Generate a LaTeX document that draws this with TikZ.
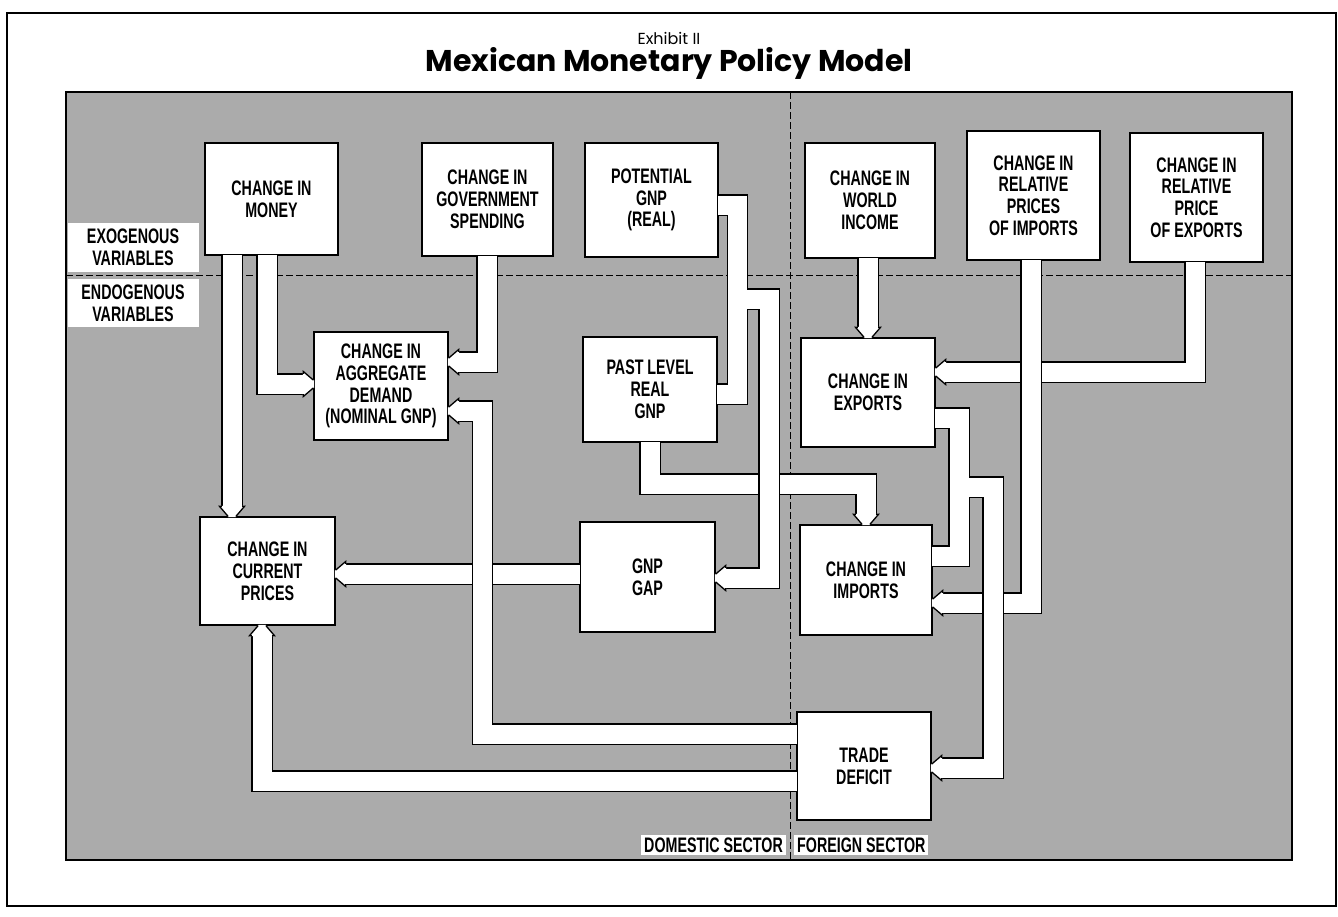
\documentclass[tikz,border=0pt]{standalone}
\usepackage{fontspec}
\usetikzlibrary{calc}
\setmainfont{Liberation Sans}
\newfontfamily\condfont{Liberation Sans}[FakeStretch=0.68]
\newfontfamily\titlefont{Poppins}
\newcommand\boxtext{\condfont\bfseries\fontsize{21}{21.8}\selectfont}
\newcommand\fatband[1]{\draw[bandback] #1; \draw[bandfront] #1;}
\tikzset{
  box/.style={draw, line width=1.4pt, fill=white, inner sep=0pt, align=center, font=\boxtext},
  lbl/.style={fill=white, inner sep=0pt, align=center, font=\boxtext},
  bandback/.style={line width=21.6pt, draw=black, line join=miter, line cap=butt},
  bandfront/.style={line width=19pt, draw=white, line join=miter, line cap=butt},
  divider/.style={line width=1pt, dash pattern=on 7pt off 3pt},
  ahead/.pic={
    \fill[white] (10.5,12.5) -- (-0.9,3.6) -- (-0.9,-3.6) -- (10.5,-12.5) -- cycle;
    \draw[line width=1.3pt, line join=miter] (10,10.2) -- (10,12.5) -- (-0.2,3.8);
    \draw[line width=1.3pt, line join=miter] (10,-10.2) -- (10,-12.5) -- (-0.2,-3.8);
  }
}
\begin{document}
\begin{tikzpicture}[x=1pt,y=-1pt]
\useasboundingbox (0,0) rectangle (1338,916);
% outer frame and title
\draw[line width=1.8pt] (7,13) rectangle (1336,906);
\node[font=\titlefont\fontsize{16}{18}\selectfont] (exhibit) at (669,38) {Exhibit II};
\node[font=\titlefont\bfseries\fontsize{30}{34}\selectfont] (title) at (669,63) {Mexican Monetary Policy Model};
% shaded panel
\fill[black!33] (66,92) rectangle (1292,860);
\draw[line width=1.5pt] (66,92) rectangle (1292,860);
% dividers
\draw[divider] (66,275) -- (1292,275);
\draw[divider] (790,92) -- (790,860);
% side labels
\node[lbl, minimum width=131pt, minimum height=49pt] (exo) at (133,247) {EXOGENOUS\\VARIABLES};
\node[lbl, minimum width=131pt, minimum height=48pt] (endo) at (133,303) {ENDOGENOUS\\VARIABLES};
\node[lbl, inner sep=3pt, anchor=east] (dom) at (786,845) {DOMESTIC SECTOR};
\node[lbl, inner sep=3pt, anchor=west] (for) at (794,845) {FOREIGN SECTOR};
% boxes
\node[box, minimum width=133pt, minimum height=112pt] (money) at (271.5,199) {CHANGE IN\\MONEY};
\node[box, minimum width=131pt, minimum height=113pt] (gov) at (487.5,199.5) {CHANGE IN\\GOVERNMENT\\SPENDING};
\node[box, minimum width=133pt, minimum height=114pt] (potential) at (651.5,200) {POTENTIAL\\GNP\\(REAL)};
\node[box, minimum width=130pt, minimum height=115pt] (world) at (870,200.5) {CHANGE IN\\WORLD\\INCOME};
\node[box, minimum width=133pt, minimum height=129pt] (relimp) at (1033.5,195.5) {CHANGE IN\\RELATIVE\\PRICES\\OF IMPORTS};
\node[box, minimum width=133pt, minimum height=129pt] (relexp) at (1196.5,197.5) {CHANGE IN\\RELATIVE\\PRICE\\OF EXPORTS};
\node[box, minimum width=134pt, minimum height=108pt] (agg) at (381,386) {CHANGE IN\\AGGREGATE\\DEMAND\\(NOMINAL GNP)};
\node[box, minimum width=134pt, minimum height=105pt] (past) at (650,389.5) {PAST LEVEL\\REAL\\GNP};
\node[box, minimum width=134pt, minimum height=109pt] (exports) at (868,392.5) {CHANGE IN\\EXPORTS};
\node[box, minimum width=135pt, minimum height=108pt] (prices) at (267.5,571) {CHANGE IN\\CURRENT\\PRICES};
\node[box, minimum width=135pt, minimum height=110pt] (gap) at (647.5,577) {GNP\\GAP};
\node[box, minimum width=132pt, minimum height=110pt] (imports) at (866,580) {CHANGE IN\\IMPORTS};
\node[box, minimum width=134pt, minimum height=108pt] (trade) at (864,766) {TRADE\\DEFICIT};
% past level -> imports
\fatband{($(past.south -| 650,0)+(0,-0.7)$) |- (866,484) -- ($(imports.north -| 866,0)+(0,-10)$)}
\pic[rotate=90] at (imports.north -| 866,0) {ahead};
% potential -> past level, potential -> gap
\fatband{($(potential.east |- 0,205)+(-0.7,0)$) -| (737.5,394) -- ($(past.east |- 0,394)+(-0.7,0)$) (737.5,299) -| (769,578) -- ($(gap.east |- 0,578)+(10,0)$)}
\pic at (gap.east |- 0,578) {ahead};
% gap -> prices
\fatband{($(gap.west |- 0,574)+(0.7,0)$) -- ($(prices.east |- 0,574)+(10,0)$)}
\pic at (prices.east |- 0,574) {ahead};
% trade -> aggregate demand
\fatband{($(trade.west |- 0,734)+(0.7,0)$) -| (482.5,411) -- ($(agg.east |- 0,411)+(10,0)$)}
\pic at (agg.east |- 0,411) {ahead};
% trade -> prices
\fatband{($(trade.west |- 0,781)+(0.7,0)$) -| ($(prices.south -| 262,0)+(0,10)$)}
\pic[rotate=-90] at (prices.south -| 262,0) {ahead};
% money -> prices, money -> aggregate demand
\fatband{($(money.south -| 232,0)+(0,-0.7)$) -- ($(prices.north -| 232,0)+(0,-10)$)}
\pic[rotate=90] at (prices.north -| 232,0) {ahead};
\fatband{($(money.south -| 267,0)+(0,-0.7)$) |- ($(agg.west |- 0,384)+(-10,0)$)}
\pic[rotate=180] at (agg.west |- 0,384) {ahead};
% government -> aggregate demand
\fatband{($(gov.south -| 487,0)+(0,-0.7)$) |- ($(agg.east |- 0,362)+(10,0)$)}
\pic at (agg.east |- 0,362) {ahead};
% world income -> exports
\fatband{($(world.south -| 868,0)+(0,-0.7)$) -- ($(exports.north -| 868,0)+(0,-10)$)}
\pic[rotate=90] at (exports.north -| 868,0) {ahead};
% relative price of exports -> exports
\fatband{($(relexp.south -| 1195,0)+(0,-0.7)$) |- ($(exports.east |- 0,372)+(10,0)$)}
\pic at (exports.east |- 0,372) {ahead};
% relative prices of imports -> imports
\fatband{($(relimp.south -| 1031,0)+(0,-0.7)$) |- ($(imports.east |- 0,603)+(10,0)$)}
\pic at (imports.east |- 0,603) {ahead};
% exports, imports -> trade deficit
\fatband{($(exports.east |- 0,418)+(-0.7,0)$) -| (959,556) -- ($(imports.east |- 0,556)+(-0.7,0)$) (959,487) -| (993,768) -- ($(trade.east |- 0,768)+(10,0)$)}
\pic at (trade.east |- 0,768) {ahead};
\end{tikzpicture}
\end{document}
